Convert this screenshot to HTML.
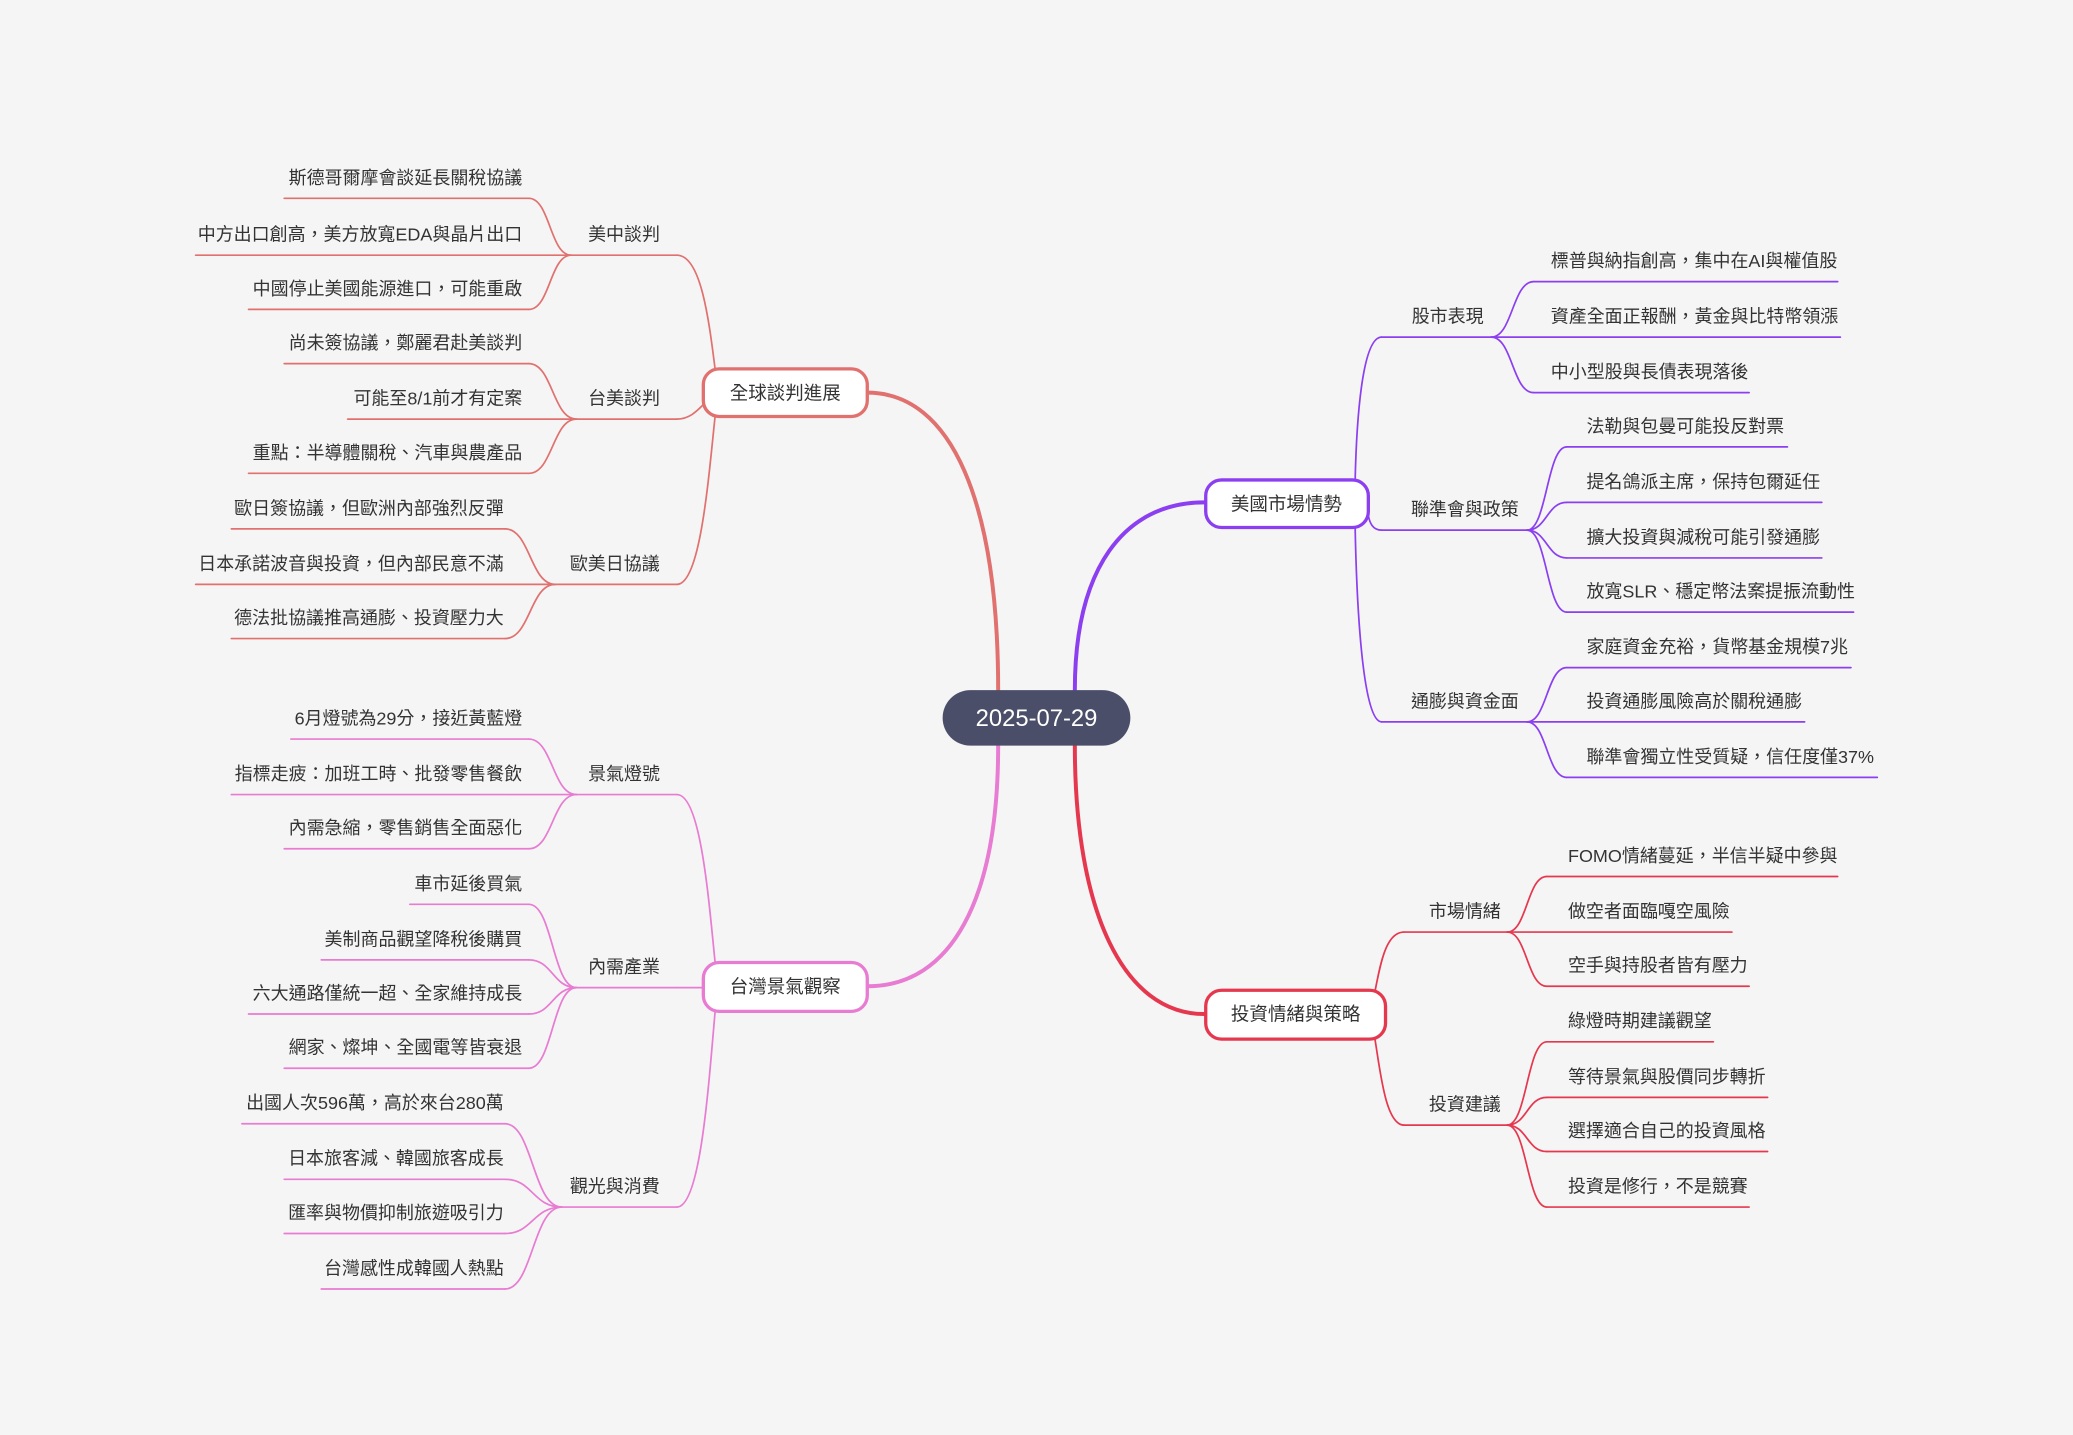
<!DOCTYPE html>
<html><head><meta charset="utf-8"><style>
html,body{margin:0;padding:0;background:#f5f5f5;}
svg{display:block;}
text{font-family:"Liberation Sans","Noto Sans CJK TC",sans-serif;font-size:13.6px;fill:#333;}
.e{text-anchor:end}.m{text-anchor:middle}
path,line{fill:none;stroke-linecap:round}
.c1{stroke:#e0716f}.c2{stroke:#e87bd2}.c3{stroke:#8b3ff0}.c4{stroke:#e5384f}
.t{stroke-width:1.3}
</style></head><body>
<svg width="2073" height="1435" viewBox="0 0 1568 1085.4" xmlns="http://www.w3.org/2000/svg">
<rect width="1568" height="1086" fill="#f5f5f5"/>
<!-- main connectors -->
<path class="c1" stroke-width="3" d="M755,522 C755,380 720,297 656,297"/>
<path class="c2" stroke-width="3" d="M755,564 C755,680 720,746 656,746"/>
<path class="c3" stroke-width="3" d="M813,522 C813,430 850,380 911,380"/>
<path class="c4" stroke-width="3" d="M813,564 C813,690 850,767 911,767"/>

<!-- group 1 -->
<g class="c1 t">
<path d="M512,193 C530,193 536,240 541,280"/>
<path d="M512,317 C522,317 528,310 533,305"/>
<path d="M512,442 C530,442 536,360 541,314"/>
<line x1="432" y1="193" x2="512" y2="193"/>
<line x1="215" y1="150" x2="400" y2="150"/><path d="M400,150 C416,150 416,193 432,193"/>
<line x1="148" y1="193" x2="432" y2="193"/>
<line x1="188" y1="234" x2="400" y2="234"/><path d="M400,234 C416,234 416,193 432,193"/>
<line x1="436" y1="317" x2="512" y2="317"/>
<line x1="215" y1="275" x2="400" y2="275"/><path d="M400,275 C418,275 418,317 436,317"/>
<line x1="263" y1="317" x2="436" y2="317"/>
<line x1="188" y1="358" x2="400" y2="358"/><path d="M400,358 C418,358 418,317 436,317"/>
<line x1="420" y1="442" x2="512" y2="442"/>
<line x1="175" y1="400" x2="382" y2="400"/><path d="M382,400 C401,400 401,442 420,442"/>
<line x1="148" y1="442" x2="420" y2="442"/>
<line x1="175" y1="483" x2="382" y2="483"/><path d="M382,483 C401,483 401,442 420,442"/>
</g>
<text class="m" x="472" y="182">美中談判</text>
<text class="e" x="395" y="139">斯德哥爾摩會談延長關稅協議</text>
<text class="e" x="395" y="182">中方出口創高，美方放寬EDA與晶片出口</text>
<text class="e" x="395" y="223">中國停止美國能源進口，可能重啟</text>
<text class="m" x="472" y="306">台美談判</text>
<text class="e" x="395" y="264">尚未簽協議，鄭麗君赴美談判</text>
<text class="e" x="395" y="306">可能至8/1前才有定案</text>
<text class="e" x="395" y="347">重點：半導體關稅、汽車與農產品</text>
<text class="m" x="465" y="431">歐美日協議</text>
<text class="e" x="381" y="389">歐日簽協議，但歐洲內部強烈反彈</text>
<text class="e" x="381" y="431">日本承諾波音與投資，但內部民意不滿</text>
<text class="e" x="381" y="472">德法批協議推高通膨、投資壓力大</text>

<!-- group 2 -->
<g class="c2 t">
<path d="M512,601 C530,601 536,680 541,729"/>
<path d="M512,747 L531,747"/>
<path d="M512,913 C530,913 536,820 541,764"/>
<line x1="436" y1="601" x2="512" y2="601"/>
<line x1="220" y1="559" x2="400" y2="559"/><path d="M400,559 C418,559 418,601 436,601"/>
<line x1="175" y1="601" x2="436" y2="601"/>
<line x1="215" y1="642" x2="400" y2="642"/><path d="M400,642 C418,642 418,601 436,601"/>
<line x1="436" y1="747" x2="512" y2="747"/>
<line x1="310" y1="684" x2="400" y2="684"/><path d="M400,684 C418,684 418,747 436,747"/>
<line x1="243" y1="726" x2="400" y2="726"/><path d="M400,726 C418,726 418,747 436,747"/>
<line x1="188" y1="767" x2="400" y2="767"/><path d="M400,767 C418,767 418,747 436,747"/>
<line x1="215" y1="808" x2="400" y2="808"/><path d="M400,808 C418,808 418,747 436,747"/>
<line x1="425" y1="913" x2="512" y2="913"/>
<line x1="183" y1="850" x2="382" y2="850"/><path d="M382,850 C403,850 403,913 425,913"/>
<line x1="215" y1="892" x2="382" y2="892"/><path d="M382,892 C403,892 403,913 425,913"/>
<line x1="215" y1="933" x2="382" y2="933"/><path d="M382,933 C403,933 403,913 425,913"/>
<line x1="243" y1="975" x2="382" y2="975"/><path d="M382,975 C403,975 403,913 425,913"/>
</g>
<text class="m" x="472" y="590">景氣燈號</text>
<text class="e" x="395" y="548">6月燈號為29分，接近黃藍燈</text>
<text class="e" x="395" y="590">指標走疲：加班工時、批發零售餐飲</text>
<text class="e" x="395" y="631">內需急縮，零售銷售全面惡化</text>
<text class="m" x="472" y="736">內需產業</text>
<text class="e" x="395" y="673">車市延後買氣</text>
<text class="e" x="395" y="715">美制商品觀望降稅後購買</text>
<text class="e" x="395" y="756">六大通路僅統一超、全家維持成長</text>
<text class="e" x="395" y="797">網家、燦坤、全國電等皆衰退</text>
<text class="m" x="465" y="902">觀光與消費</text>
<text class="e" x="381" y="839">出國人次596萬，高於來台280萬</text>
<text class="e" x="381" y="881">日本旅客減、韓國旅客成長</text>
<text class="e" x="381" y="922">匯率與物價抑制旅遊吸引力</text>
<text class="e" x="381" y="964">台灣感性成韓國人熱點</text>

<!-- group 3 -->
<g class="c3 t">
<path d="M1045,255 C1030,255 1026,320 1025,364"/>
<path d="M1045,401 C1038,401 1036,395 1035,390"/>
<path d="M1045,546 C1030,546 1026,450 1025,398"/>
<line x1="1045" y1="255" x2="1128" y2="255"/>
<line x1="1160" y1="213" x2="1390" y2="213"/><path d="M1128,255 C1144,255 1144,213 1160,213"/>
<line x1="1128" y1="255" x2="1392" y2="255"/>
<line x1="1160" y1="297" x2="1323" y2="297"/><path d="M1128,255 C1144,255 1144,297 1160,297"/>
<line x1="1045" y1="401" x2="1155" y2="401"/>
<line x1="1185" y1="338" x2="1352" y2="338"/><path d="M1155,401 C1170,401 1170,338 1185,338"/>
<line x1="1185" y1="380" x2="1378" y2="380"/><path d="M1155,401 C1170,401 1170,380 1185,380"/>
<line x1="1185" y1="422" x2="1378" y2="422"/><path d="M1155,401 C1170,401 1170,422 1185,422"/>
<line x1="1185" y1="463" x2="1402" y2="463"/><path d="M1155,401 C1170,401 1170,463 1185,463"/>
<line x1="1045" y1="546" x2="1155" y2="546"/>
<line x1="1185" y1="505" x2="1400" y2="505"/><path d="M1155,546 C1170,546 1170,505 1185,505"/>
<line x1="1155" y1="546" x2="1365" y2="546"/>
<line x1="1185" y1="588" x2="1420" y2="588"/><path d="M1155,546 C1170,546 1170,588 1185,588"/>
</g>
<text class="m" x="1095" y="244">股市表現</text>
<text x="1173" y="202">標普與納指創高，集中在AI與權值股</text>
<text x="1173" y="244">資產全面正報酬，黃金與比特幣領漲</text>
<text x="1173" y="286">中小型股與長債表現落後</text>
<text class="m" x="1108" y="390">聯準會與政策</text>
<text x="1200" y="327">法勒與包曼可能投反對票</text>
<text x="1200" y="369">提名鴿派主席，保持包爾延任</text>
<text x="1200" y="411">擴大投資與減稅可能引發通膨</text>
<text x="1200" y="452">放寬SLR、穩定幣法案提振流動性</text>
<text class="m" x="1108" y="535">通膨與資金面</text>
<text x="1200" y="494">家庭資金充裕，貨幣基金規模7兆</text>
<text x="1200" y="535">投資通膨風險高於關稅通膨</text>
<text x="1200" y="577">聯準會獨立性受質疑，信任度僅37%</text>

<!-- group 4 -->
<g class="c4 t">
<path d="M1062,705 C1048,705 1044,730 1040,750"/>
<path d="M1062,851 C1048,851 1044,810 1040,786"/>
<line x1="1062" y1="705" x2="1140" y2="705"/>
<line x1="1170" y1="663" x2="1390" y2="663"/><path d="M1140,705 C1155,705 1155,663 1170,663"/>
<line x1="1140" y1="705" x2="1310" y2="705"/>
<line x1="1170" y1="746" x2="1323" y2="746"/><path d="M1140,705 C1155,705 1155,746 1170,746"/>
<line x1="1062" y1="851" x2="1140" y2="851"/>
<line x1="1170" y1="788" x2="1296" y2="788"/><path d="M1140,851 C1155,851 1155,788 1170,788"/>
<line x1="1170" y1="830" x2="1337" y2="830"/><path d="M1140,851 C1155,851 1155,830 1170,830"/>
<line x1="1170" y1="871" x2="1337" y2="871"/><path d="M1140,851 C1155,851 1155,871 1170,871"/>
<line x1="1170" y1="913" x2="1323" y2="913"/><path d="M1140,851 C1155,851 1155,913 1170,913"/>
</g>
<text class="m" x="1108" y="694">市場情緒</text>
<text x="1186" y="652">FOMO情緒蔓延，半信半疑中參與</text>
<text x="1186" y="694">做空者面臨嘎空風險</text>
<text x="1186" y="735">空手與持股者皆有壓力</text>
<text class="m" x="1108" y="840">投資建議</text>
<text x="1186" y="777">綠燈時期建議觀望</text>
<text x="1186" y="819">等待景氣與股價同步轉折</text>
<text x="1186" y="860">選擇適合自己的投資風格</text>
<text x="1186" y="902">投資是修行，不是競賽</text>

<!-- level1 nodes -->
<rect x="532" y="279" width="124" height="36" rx="12" fill="#fff" stroke="#e0716f" stroke-width="2.5"/>
<text class="m" x="594" y="302" style="font-size:14px">全球談判進展</text>
<rect x="532" y="728" width="124" height="37" rx="12" fill="#fff" stroke="#e87bd2" stroke-width="2.5"/>
<text class="m" x="594" y="751" style="font-size:14px">台灣景氣觀察</text>
<rect x="912" y="363" width="123" height="36" rx="12" fill="#fff" stroke="#8b3ff0" stroke-width="2.5"/>
<text class="m" x="973" y="386" style="font-size:14px">美國市場情勢</text>
<rect x="912" y="749" width="136" height="37" rx="12" fill="#fff" stroke="#e5384f" stroke-width="2.5"/>
<text class="m" x="980" y="772" style="font-size:14px">投資情緒與策略</text>

<!-- central -->
<rect x="713" y="522" width="142" height="42" rx="21" fill="#4b4e69"/>
<text class="m" x="784" y="549" style="font-size:18px;fill:#fff">2025-07-29</text>
</svg>
</body></html>
